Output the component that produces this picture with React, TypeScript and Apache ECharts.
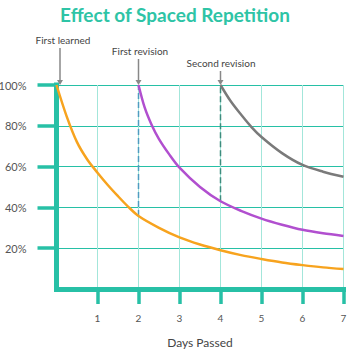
import React, { useEffect, useRef } from 'react';
import * as echarts from 'echarts';

const dayTicks = [1, 2, 3, 4, 5, 6, 7];
const percentTicks = [20, 40, 60, 80, 100];
const firstLearnedDays = [0, 0.25, 0.5, 0.75, 1, 1.25, 1.5, 1.75, 2, 2.5, 3, 3.5, 4, 4.5, 5, 5.5, 6, 6.5, 7];
const firstLearnedRetention = [100, 84.5, 72, 63.5, 57, 51, 45.5, 40.3, 35.8, 30, 25.3, 21.8, 19, 16.6, 14.7, 13, 11.7, 10.6, 9.8];
const firstRevisionDays = [2, 2.15, 2.33, 2.5, 2.75, 3, 3.5, 4, 4.5, 5, 5.5, 6, 6.5, 7];
const firstRevisionRetention = [100, 89, 80, 73.5, 66, 59.5, 50, 43, 38.3, 34.5, 31.5, 29, 27.3, 26];
const secondRevisionDays = [4, 4.25, 4.5, 4.75, 5, 5.5, 6, 6.5, 7];
const secondRevisionRetention = [100, 92, 85.5, 79.5, 74.5, 66.6, 60.8, 57.5, 55];
const revisionMarkers = [
  { day: 2, from: 35.8, color: '#4f9cc0' },
  { day: 4, from: 43, color: '#3d8c7d' },
];
const annotations = [
  { text: 'First learned', day: 0, tx: 63, ty: 40, top: 48 },
  { text: 'First revision', day: 2, tx: 140, ty: 51, top: 59 },
  { text: 'Second revision', day: 4, tx: 221, ty: 63, top: 71 },
];

const TEAL = '#27c0a6';
const FONT = 'Lato, "Open Sans", sans-serif';

const zip = (xs: number[], ys: number[]) => xs.map((x, i) => [x, ys[i]]);

export default function App() {
  const ref = useRef<HTMLDivElement>(null);
  useEffect(() => {
    if (!ref.current) return;
    const chart = echarts.init(ref.current, undefined, { renderer: 'svg' });
    const option: any = {
      animation: false,
      title: {
        text: 'Effect of Spaced Repetition',
        left: 'center',
        top: 0,
        textStyle: { color: '#2ec4a6', fontSize: 19, fontWeight: 'bold', fontFamily: FONT },
      },
      grid: { left: 56.5, right: 6.5, top: 85, bottom: 61, outerBoundsMode: 'none', containLabel: false },
      xAxis: {
        type: 'value',
        min: 0,
        max: 7,
        interval: 1,
        name: 'Days Passed',
        nameLocation: 'middle',
        nameGap: 47,
        nameTextStyle: { color: '#444', fontSize: 12, fontFamily: FONT },
        axisLine: { lineStyle: { color: TEAL, width: 5, cap: 'square' } },
        axisTick: { show: true, length: 15, customValues: dayTicks, lineStyle: { color: TEAL, width: 3.5 } },
        axisLabel: { customValues: dayTicks, margin: 24, color: '#555', fontSize: 10, fontFamily: FONT },
        splitLine: { show: true, lineStyle: { color: '#a3e6da', width: 1 } },
      },
      yAxis: {
        type: 'value',
        min: 0,
        max: 100,
        interval: 20,
        axisLine: { show: true, lineStyle: { color: TEAL, width: 5, cap: 'square' } },
        axisTick: { show: true, length: 19, customValues: percentTicks, lineStyle: { color: TEAL, width: 3.5 } },
        axisLabel: {
          customValues: percentTicks,
          margin: 30,
          color: '#555',
          fontSize: 11,
          fontFamily: FONT,
          formatter: (v: number) => v + '%',
        },
        splitLine: { show: true, lineStyle: { color: TEAL, width: 1 } },
      },
      series: [
        ...revisionMarkers.map((m) => ({
          type: 'line',
          data: [[m.day, m.from], [m.day, 100]],
          symbol: 'none',
          lineStyle: { color: m.color, width: 1.5, type: [6, 3] },
          z: 1,
        })),
        {
          type: 'line',
          data: zip(firstLearnedDays, firstLearnedRetention),
          smooth: 0.3,
          symbol: 'none',
          lineStyle: { color: '#f7a31e', width: 2.5 },
        },
        {
          type: 'line',
          data: zip(firstRevisionDays, firstRevisionRetention),
          smooth: 0.3,
          symbol: 'none',
          lineStyle: { color: '#b14fcf', width: 2.5 },
        },
        {
          type: 'line',
          data: zip(secondRevisionDays, secondRevisionRetention),
          smooth: 0.3,
          symbol: 'none',
          lineStyle: { color: '#7a7a7a', width: 2.5 },
        },
      ],
    };
    chart.setOption(option);
    const graphic: any[] = [];
    annotations.forEach((a) => {
      const p = chart.convertToPixel({ gridIndex: 0 }, [a.day, 100]) as number[];
      const x = p[0] + (a.day === 0 ? 3.5 : 0);
      const y = p[1];
      graphic.push({
        type: 'text',
        x: a.tx,
        y: a.ty,
        style: {
          text: a.text,
          fill: '#444',
          fontSize: 10,
          fontFamily: FONT,
          align: 'center',
          verticalAlign: 'middle',
        },
      });
      graphic.push({
        type: 'line',
        shape: { x1: x, y1: a.top, x2: x, y2: y - 4 },
        style: { stroke: '#888', lineWidth: 1.5 },
        z: 10,
      });
      graphic.push({
        type: 'polygon',
        shape: { points: [[x - 3, y - 5], [x + 3, y - 5], [x, y]] },
        style: { fill: '#888' },
        z: 10,
      });
    });
    chart.setOption({ graphic });
    return () => chart.dispose();
  }, []);
  return <div ref={ref} style={{ width: 350, height: 350, position: 'absolute', left: 0, top: 0 }} />;
}
